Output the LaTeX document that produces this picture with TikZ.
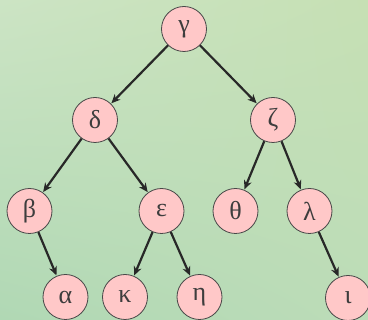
\documentclass[tikz,border=0pt]{standalone}
\usepackage{fontspec}
\newfontfamily\gk{Liberation Serif}
\usetikzlibrary{arrows.meta,shadings}
\definecolor{bgA}{RGB}{204,228,196}
\definecolor{bgB}{RGB}{176,216,180}
\definecolor{bgC}{RGB}{198,224,180}
\definecolor{bgD}{RGB}{188,220,184}
\definecolor{nodefill}{RGB}{255,200,200}
\definecolor{ink}{RGB}{40,40,40}
\tikzset{
  tn/.style={circle, draw=ink!85, line width=0.8pt, fill=nodefill, minimum size=45pt, inner sep=0pt, font=\gk\fontsize{26}{26}\selectfont, text=ink!90},
  edge/.style={draw=ink, line width=2.2pt, -{Stealth[length=9pt,width=8pt]}, shorten >=0.5pt}
}
\begin{document}
\begin{tikzpicture}[x=1pt,y=-1pt]
\useasboundingbox (0,0) rectangle (368,320);
\shade[upper left=bgA, upper right=bgC, lower left=bgB, lower right=bgD] (0,0) rectangle (368,320);
\node[tn] (g) at (184,29) {γ};
\node[tn] (d) at (95,120) {δ};
\node[tn] (z) at (273,120) {ζ};
\node[tn] (b) at (29.5,211) {β};
\node[tn] (e) at (161.5,211) {ε};
\node[tn] (t) at (235.5,211) {θ};
\node[tn] (l) at (309.5,211) {λ};
\node[tn] (a) at (65.5,297) {α};
\node[tn] (k) at (125,297) {κ};
\node[tn] (h) at (199.5,297) {η};
\node[tn] (i) at (348,298) {ι};
\draw[edge] (g) -- (d);
\draw[edge] (g) -- (z);
\draw[edge] (d) -- (b);
\draw[edge] (d) -- (e);
\draw[edge] (z) -- (t);
\draw[edge] (z) -- (l);
\draw[edge] (b) -- (a);
\draw[edge] (e) -- (k);
\draw[edge] (e) -- (h);
\draw[edge] (l) -- (i);
\end{tikzpicture}
\end{document}
